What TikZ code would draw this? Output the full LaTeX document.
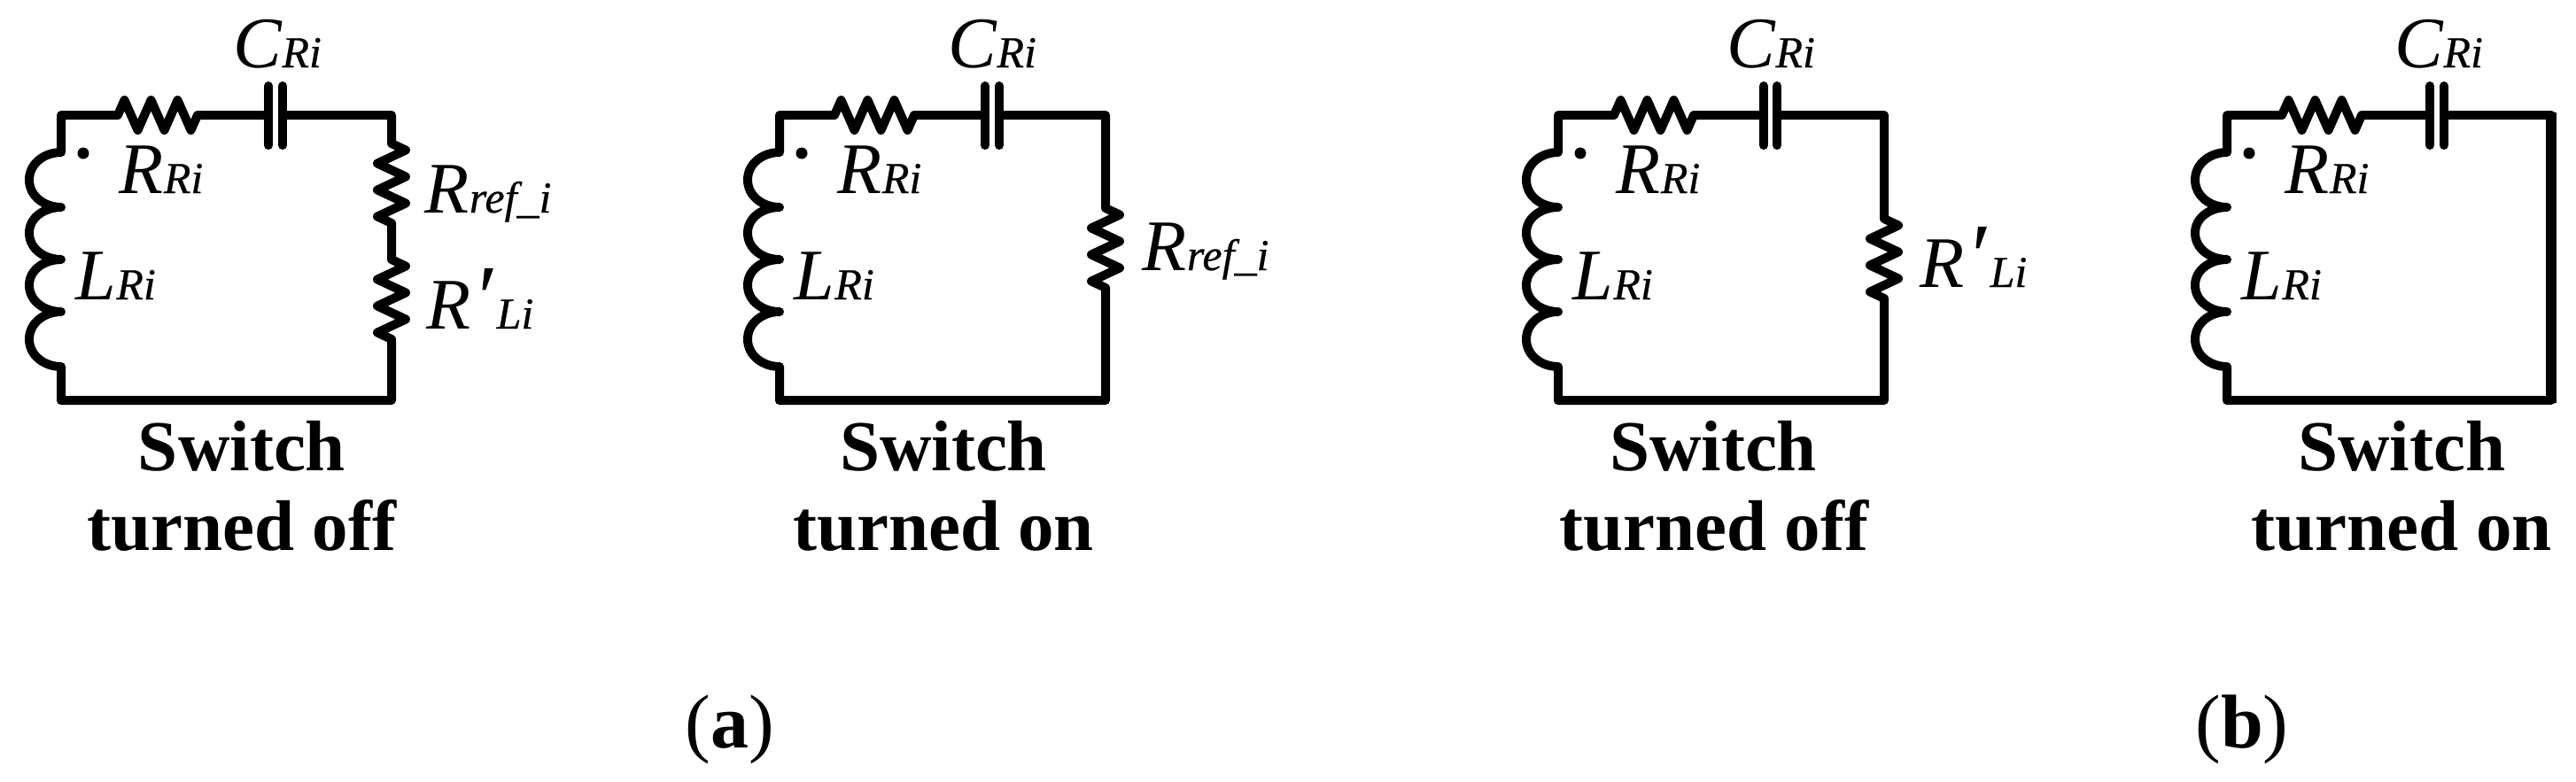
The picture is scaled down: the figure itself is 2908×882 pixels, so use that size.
\documentclass[tikz,border=0pt]{standalone}
\usepackage{fontspec}
\setmainfont{Liberation Serif}
% main symbol with its subscript set on the same baseline
\newcommand{\lbl}[2]{{\fontsize{20.5}{24}\selectfont\itshape #1}{\fontsize{12.5}{15}\selectfont\itshape\addfontfeature{FakeBold=0.5} #2}}
\newcommand{\prm}{\kern0.5pt{\fontsize{26}{24}\selectfont′}\kern1pt}
% resistor zigzags, 90 px long, drawn inside a path
\newcommand{\zigd}{-- ++(16,7.5) -- ++(-32,15) -- ++(32,15) -- ++(-32,15) -- ++(32,15) -- ++(-32,15) -- ++(16,7.5)}
\newcommand{\zigr}{-- ++(7.5,-17) -- ++(15,34) -- ++(15,-34) -- ++(15,34) -- ++(15,-34) -- ++(15,34) -- ++(7.5,-17)}
\tikzset{
  wire/.style={line width=2.5pt,line join=round,line cap=round},
  fatwire/.style={line width=3.2pt,line join=miter},
  lab/.style={inner sep=0pt,anchor=base west},
  capt/.style={inner sep=0pt,anchor=base,font=\fontsize{20.25}{22.5}\selectfont\bfseries},
  panel/.style={inner sep=0pt,anchor=base,font=\fontsize{21.5}{25}\selectfont}
}
\begin{document}
\begin{tikzpicture}[x=0.25pt,y=-0.25pt]
  \useasboundingbox (0,0) rectangle (2908,882);

  % COMMON PART: coil, series resistor, capacitor, left labels
  \foreach \p/\xl/\xr/\xs/\xa/\xb/\xc/\xt in {
      a/69/442/133/303/319/263/273,
      b/880/1248/942/1112/1128/1070/1065,
      c/1759/2127/1822/1991/2006/1949/1934,
      d/2514/2880/2576/2743/2759/2703/2711}{
    \coordinate (tr\p) at (\xr,130);
    \coordinate (br\p) at (\xr,452);
    \coordinate (tl\p) at (\xl,130);
    \coordinate (bl\p) at (\xl,452);
    \pgfmathsetmacro{\xm}{\xl-36}
    \draw[wire] (bl\p) -- (\xl,414)
      to[out=180,in=-90] (\xm,383) to[out=90,in=180] (\xl,352)
      to[out=180,in=-90] (\xm,322) to[out=90,in=180] (\xl,293)
      to[out=180,in=-90] (\xm,263) to[out=90,in=180] (\xl,234)
      to[out=180,in=-90] (\xm,203) to[out=90,in=180] (\xl,172)
      -- (tl\p) -- (\xs,130) \zigr -- (\xa,130);
    \draw[wire] (\xa,97) -- (\xa,164);
    \draw[wire] (\xb,97) -- (\xb,164);
    \pgfmathsetmacro{\xd}{\xl+25}
    \fill (\xd,173) circle (6.5);
    \pgfmathsetmacro{\xrr}{\xl+65}
    \pgfmathsetmacro{\xll}{\xl+16}
    \node[lab] (C\p) at (\xc,76) {\lbl{C}{Ri}};
    \node[lab] (R\p) at (\xrr,218) {\lbl{R}{Ri}};
    \node[lab] (L\p) at (\xll,338) {\lbl{L}{Ri}};
    \node[capt] (S\p) at (\xt,531) {Switch};
  }

  % RIGHT BRANCHES
  \draw[wire] (319,130) -- (tra) -- (442,162) \zigd -- (442,293) \zigd -- (bra) -- (bla);
  \draw[wire] (1128,130) -- (trb) -- (1248,235) \zigd -- (brb) -- (blb);
  \draw[wire] (2006,130) -- (trc) -- (2127,247) \zigd -- (brc) -- (blc);
  \draw[wire] (2759,130) -- (trd);
  \draw[wire] (brd) -- (bld);
  \draw[fatwire] (2880,127) -- (2880,455);

  % RIGHT LABELS
  \node[lab] (Rrefa) at (479,240) {\lbl{R}{ref\_i}};
  \node[lab] (Rpa) at (481,371) {\lbl{R\prm}{Li}};
  \node[lab] (Rrefb) at (1289,305) {\lbl{R}{ref\_i}};
  \node[lab] (Rpc) at (2167,324) {\lbl{R\prm}{Li}};

  % CAPTIONS
  \node[capt] (Ta) at (273,621) {turned off};
  \node[capt] (Tb) at (1065,621) {turned on};
  \node[capt] (Tc) at (1935,621) {turned off};
  \node[capt] (Td) at (2711,621) {turned on};
  \node[panel] (pa) at (824,844) {(\textbf{a})};
  \node[panel] (pb) at (2531,844) {(\textbf{b})};
\end{tikzpicture}
\end{document}
